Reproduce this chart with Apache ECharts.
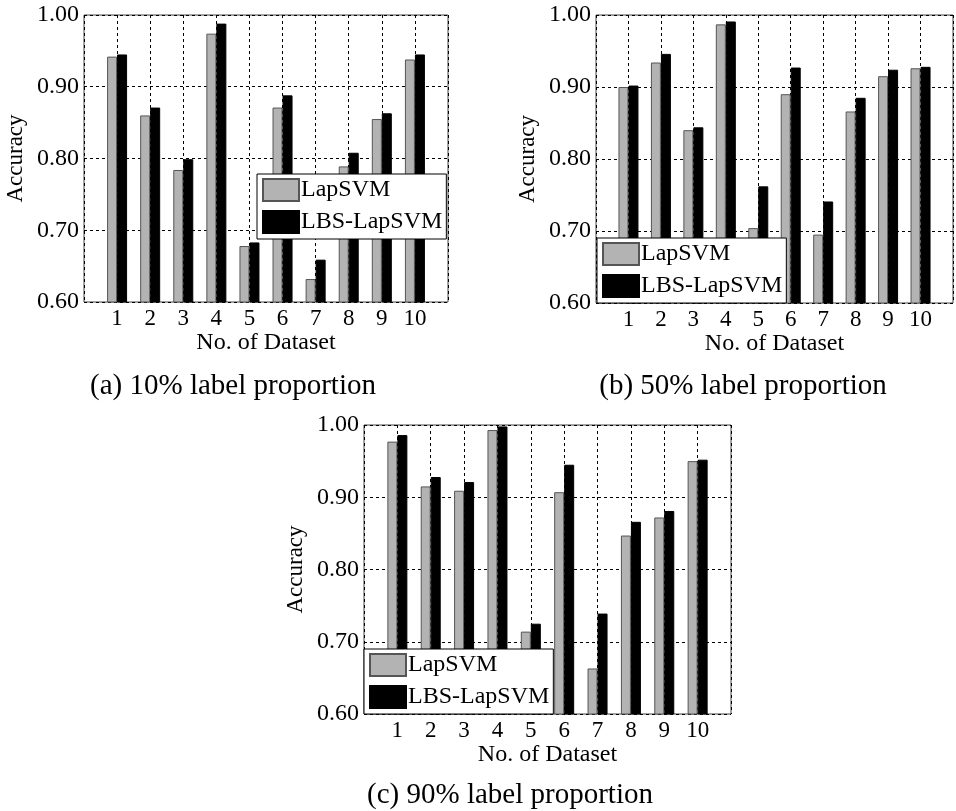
<!DOCTYPE html>
<html>
<head>
<meta charset="utf-8">
<script src="https://cdn.jsdelivr.net/npm/echarts@6/dist/echarts.min.js"></script>
<style>html,body{margin:0;padding:0;background:#fff;}#c{width:956px;height:811px;}</style>
</head>
<body>
<div id="c"></div>
<script>
const categories = [1, 2, 3, 4, 5, 6, 7, 8, 9, 10];
const yTicks = [0.60, 0.70, 0.80, 0.90, 1.00];
const seriesNames = ['LapSVM', 'LBS-LapSVM'];
const captions = ['(a) 10% label proportion', '(b) 50% label proportion', '(c) 90% label proportion'];

const lap10 = [0.942, 0.860, 0.784, 0.974, 0.678, 0.871, 0.632, 0.789, 0.855, 0.938];
const lbs10 = [0.945, 0.871, 0.799, 0.988, 0.683, 0.888, 0.659, 0.808, 0.863, 0.945];
const lap50 = [0.900, 0.934, 0.840, 0.987, 0.704, 0.890, 0.695, 0.866, 0.915, 0.926];
const lbs50 = [0.902, 0.946, 0.844, 0.991, 0.762, 0.927, 0.741, 0.885, 0.924, 0.928];
const lap90 = [0.977, 0.915, 0.909, 0.993, 0.714, 0.907, 0.663, 0.847, 0.872, 0.950];
const lbs90 = [0.986, 0.928, 0.921, 0.998, 0.725, 0.945, 0.739, 0.866, 0.881, 0.952];

const FONT = '"Liberation Serif", "Times New Roman", serif';
const panels = [
  {grid: {left: 84, top: 15, width: 364, height: 287}, legend: {left: 257, top: 174}, caption: {x: 233, y: 386}, lap: lap10, lbs: lbs10},
  {grid: {left: 596, top: 15, width: 366, height: 288}, legend: {left: 597, top: 238}, caption: {x: 743, y: 386}, lap: lap50, lbs: lbs50},
  {grid: {left: 364, top: 425, width: 367, height: 289}, legend: {left: 364, top: 649}, caption: {x: 510, y: 795}, lap: lap90, lbs: lbs90}
];

const dashed = {show: true, lineStyle: {color: '#000', type: [3, 3], width: 1}};
const option = {
  animation: false,
  backgroundColor: '#fff',
  grid: panels.map(p => Object.assign({show: true, borderColor: '#444', borderWidth: 1, backgroundColor: '#fff', containLabel: false}, p.grid)),
  xAxis: panels.map((p, i) => ({
    type: 'value', gridIndex: i, min: 0, max: 11, interval: 1,
    name: 'No. of Dataset', nameLocation: 'middle', nameGap: 27,
    nameTextStyle: {fontFamily: FONT, fontSize: 24, color: '#000'},
    axisLine: {show: false}, axisTick: {show: false},
    axisLabel: {
      margin: 5, fontFamily: FONT, fontSize: 23, color: '#000',
      formatter: v => (categories.indexOf(v) >= 0 ? String(v) : '')
    },
    splitLine: dashed
  })),
  yAxis: panels.map((p, i) => ({
    type: 'value', gridIndex: i, min: yTicks[0], max: yTicks[yTicks.length - 1], interval: 0.1,
    name: 'Accuracy', nameLocation: 'middle', nameGap: 57, nameRotate: 90,
    nameTextStyle: {fontFamily: FONT, fontSize: 23, color: '#000'},
    axisLine: {show: false}, axisTick: {show: false},
    axisLabel: {margin: 5, fontFamily: FONT, fontSize: 24, color: '#000', formatter: v => v.toFixed(2)},
    splitLine: dashed
  })),
  legend: panels.map(p => ({
    data: seriesNames, orient: 'vertical', left: p.legend.left, top: p.legend.top,
    backgroundColor: '#fff', borderColor: '#000', borderWidth: 1,
    padding: [4, 4, 5, 5], itemWidth: 36, itemHeight: 22, itemGap: 8,
    selectedMode: false, icon: 'rect',
    textStyle: {fontFamily: FONT, fontSize: 24, color: '#000', lineHeight: 22, padding: [0, 0, 0, -3]}
  })),
  series: [],
  graphic: panels.map((p, i) => ({
    type: 'text', x: p.caption.x, y: p.caption.y,
    style: {text: captions[i], font: '29px ' + FONT, fill: '#000', textAlign: 'center', textVerticalAlign: 'middle'}
  }))
};

panels.forEach((p, i) => {
  option.series.push({
    name: seriesNames[0], type: 'bar', xAxisIndex: i, yAxisIndex: i,
    barWidth: 10, barGap: '0%',
    itemStyle: {color: '#b3b3b3', borderColor: '#555', borderWidth: 1},
    data: categories.map((c, k) => [c, p.lap[k]])
  });
  option.series.push({
    name: seriesNames[1], type: 'bar', xAxisIndex: i, yAxisIndex: i,
    barWidth: 10, barGap: '0%',
    itemStyle: {color: '#000', borderColor: '#000', borderWidth: 1},
    data: categories.map((c, k) => [c, p.lbs[k]])
  });
});

const chart = echarts.init(document.getElementById('c'), null, {renderer: 'canvas'});
chart.setOption(option);
</script>
</body>
</html>
